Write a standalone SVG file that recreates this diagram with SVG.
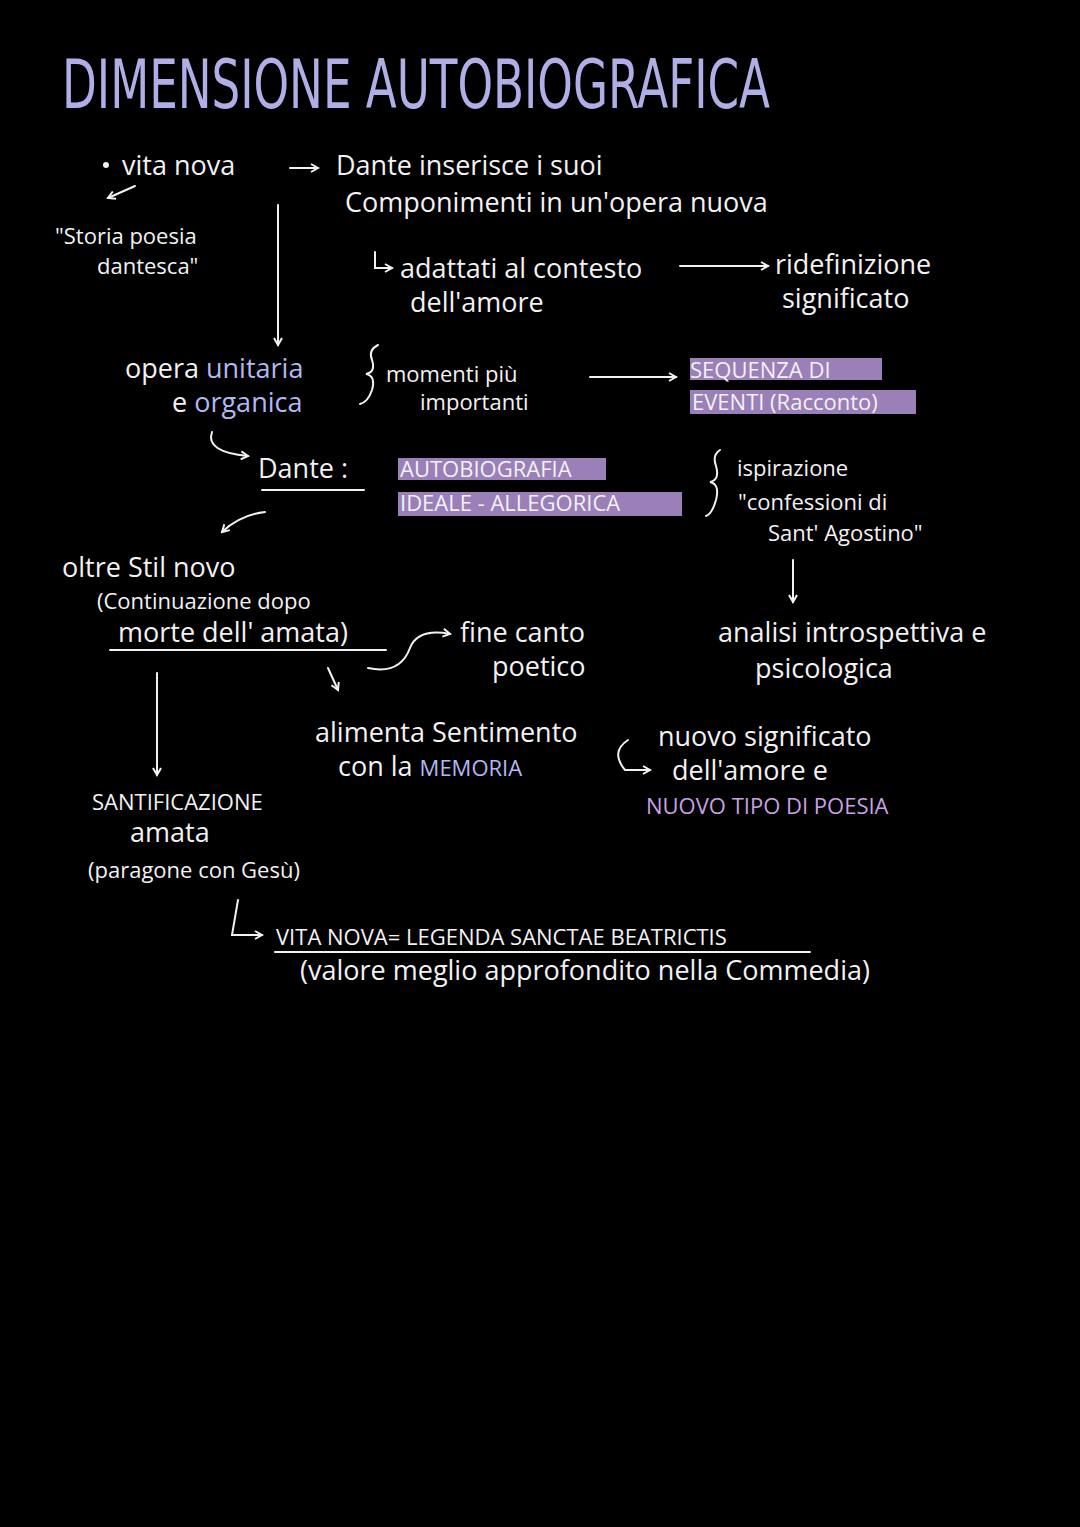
<svg xmlns="http://www.w3.org/2000/svg" width="1080" height="1527" viewBox="0 0 1080 1527">
<style>
text{font-family:"Open Sans","Liberation Sans",sans-serif;fill:#f2f2f2;font-size:27px}
.t{font-family:"DejaVu Sans Condensed","DejaVu Sans",sans-serif;fill:#b0aee6;font-size:68px}
.b{fill:#b3b8f2}.p{fill:#c9a0e6}.s{font-size:22px}
.ln{stroke:#f2f2f2;stroke-width:2;fill:none;stroke-linecap:round}
.hl{fill:#9b7fb8}
</style>
<defs><marker id="a" markerWidth="10" markerHeight="10" refX="8" refY="5" orient="auto" markerUnits="userSpaceOnUse"><path d="M1,1 L8,5 L1,9" fill="none" stroke="#f2f2f2" stroke-width="2"/></marker></defs>
<rect width="1080" height="1527" fill="#000"/>
<text class="t" x="62" y="108" textLength="708" lengthAdjust="spacingAndGlyphs">DIMENSIONE AUTOBIOGRAFICA</text>
<g id="highlights">
<rect class="hl" x="690" y="358" width="192" height="22"/>
<rect class="hl" x="690" y="390" width="226" height="24"/>
<rect class="hl" x="398" y="458" width="208" height="22"/>
<rect class="hl" x="398" y="492" width="284" height="24"/>
</g>
<g id="connectors">
<circle cx="106" cy="165" r="3" fill="#f2f2f2"/>
<path class="ln" marker-end="url(#a)" d="M290,168 L318,168"/>
<path class="ln" marker-end="url(#a)" d="M135,186 L108,198"/>
<path class="ln" marker-end="url(#a)" d="M278,205 L278,345"/>
<path class="ln" marker-end="url(#a)" d="M375,252 L375,268 L392,268"/>
<path class="ln" marker-end="url(#a)" d="M680,266 L768,266"/>
<path class="ln" d="M378,345 Q368,350 372,360 Q376,372 366,374 Q376,376 372,390 Q368,402 360,404"/>
<path class="ln" marker-end="url(#a)" d="M590,377 L676,377"/>
<path class="ln" marker-end="url(#a)" d="M212,432 Q205,452 248,456"/>
<path class="ln" d="M262,490 L364,490"/>
<path class="ln" d="M720,450 Q712,455 716,466 Q720,480 710,482 Q720,484 716,500 Q712,514 706,516"/>
<path class="ln" marker-end="url(#a)" d="M265,512 Q240,515 222,532"/>
<path class="ln" marker-end="url(#a)" d="M793,560 L793,602"/>
<path class="ln" d="M110,650 L386,650"/>
<path class="ln" marker-end="url(#a)" d="M368,668 Q400,675 410,648 Q418,628 450,634"/>
<path class="ln" marker-end="url(#a)" d="M157,673 L157,775"/>
<path class="ln" marker-end="url(#a)" d="M328,668 L338,690"/>
<path class="ln" marker-end="url(#a)" d="M628,740 Q610,752 625,770 L650,770"/>
<path class="ln" marker-end="url(#a)" d="M238,900 L232,935 L262,935"/>
<path class="ln" d="M275,952 L810,952"/>
</g>
<g id="n1"><text x="122" y="175">vita nova</text></g>
<g id="n2"><text x="336" y="175">Dante inserisce i suoi</text><text x="345" y="212">Componimenti in un'opera nuova</text></g>
<g id="n3"><text x="55" y="244" class="s">"Storia poesia</text><text x="97" y="274" class="s">dantesca"</text></g>
<g id="n4"><text x="400" y="278">adattati al contesto</text><text x="410" y="312">dell'amore</text></g>
<g id="n5"><text x="775" y="274">ridefinizione</text><text x="782" y="308">significato</text></g>
<g id="n6"><text x="125" y="378">opera <tspan class="b">unitaria</tspan></text><text x="172" y="412">e <tspan class="b">organica</tspan></text></g>
<g id="n7"><text x="386" y="382" class="s">momenti più</text><text x="420" y="410" class="s">importanti</text></g>
<g id="n8"><text x="690" y="378" class="s">SEQUENZA DI</text><text x="692" y="410" class="s">EVENTI (Racconto)</text></g>
<g id="n9"><text x="258" y="478" font-size="34">Dante :</text><text x="400" y="477" class="s">AUTOBIOGRAFIA</text><text x="400" y="511" class="s">IDEALE - ALLEGORICA</text></g>
<g id="n10"><text x="737" y="476" class="s">ispirazione</text><text x="738" y="510" class="s">"confessioni di</text><text x="768" y="541" class="s">Sant' Agostino"</text></g>
<g id="n11"><text x="62" y="577">oltre Stil novo</text><text x="97" y="609" class="s">(Continuazione dopo</text><text x="118" y="642">morte dell' amata)</text></g>
<g id="n12"><text x="460" y="642">fine canto</text><text x="492" y="676">poetico</text></g>
<g id="n13"><text x="718" y="642">analisi introspettiva e</text><text x="755" y="678">psicologica</text></g>
<g id="n14"><text x="315" y="742">alimenta Sentimento</text><text x="338" y="776">con la <tspan class="b" font-size="22">MEMORIA</tspan></text></g>
<g id="n15"><text x="658" y="746">nuovo significato</text><text x="672" y="780">dell'amore e</text><text x="646" y="814" class="p s">NUOVO TIPO DI POESIA</text></g>
<g id="n16"><text x="92" y="810" class="s">SANTIFICAZIONE</text><text x="130" y="842">amata</text><text x="88" y="878" class="s">(paragone con Gesù)</text></g>
<g id="n17"><text x="276" y="945" class="s">VITA NOVA= LEGENDA SANCTAE BEATRICTIS</text><text x="300" y="980">(valore meglio approfondito nella Commedia)</text></g>
</svg>
